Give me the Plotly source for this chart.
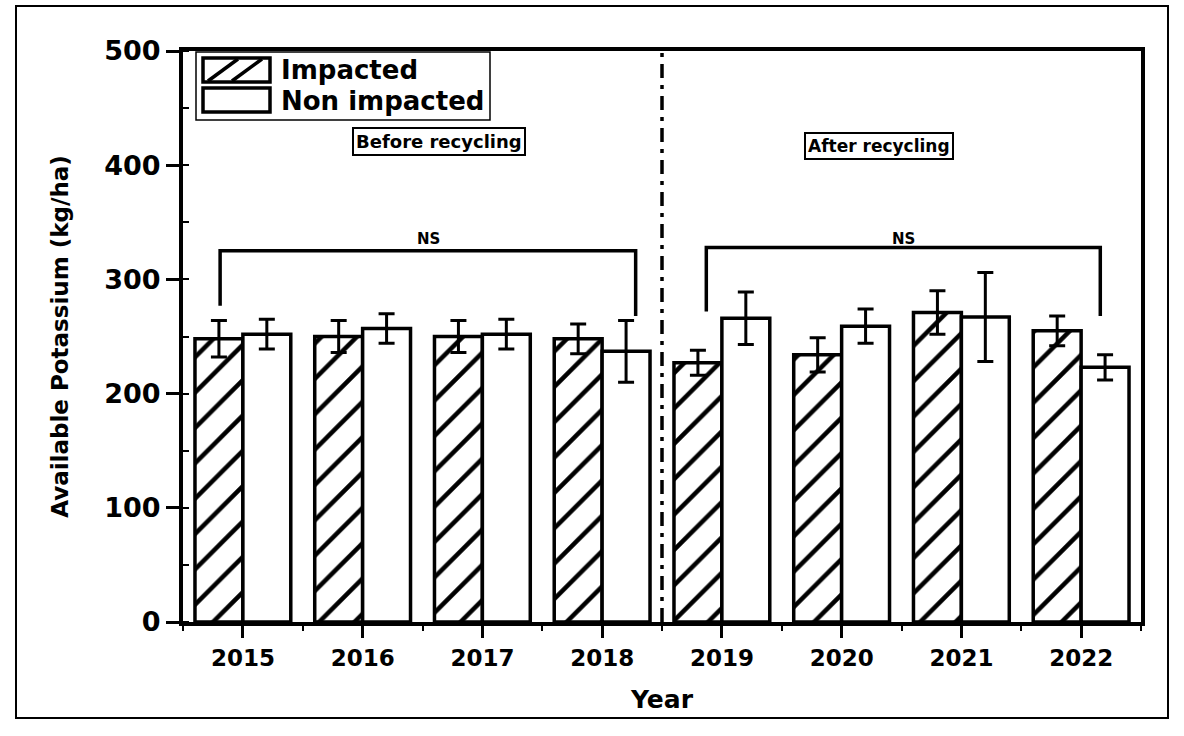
import plotly.graph_objects as go

# Available potassium (kg/ha) per year, mean and error
years = ["2015", "2016", "2017", "2018", "2019", "2020", "2021", "2022"]
impacted = [248, 250, 250, 248, 227, 234, 271, 255]
impacted_err = [16, 14, 14, 13, 11, 15, 19, 13]
non_impacted = [252, 257, 252, 237, 266, 259, 267, 223]
non_impacted_err = [13, 13, 13, 27, 23, 15, 39, 11]
y_ticks = [0, 100, 200, 300, 400, 500]

pos = list(range(len(years)))

W, H = 1184, 736
L, R, T, B = 183, 43, 51, 114
FONT = "DejaVu Sans"


def px(x):
    """pixel x -> paper x"""
    return (x - L) / (W - L - R)


def py(y):
    """pixel y -> paper y"""
    return (H - B - y) / (H - T - B)


def bold(size):
    return dict(family=FONT, size=size, color="black", weight="bold")


fig = go.Figure()

fig.add_trace(go.Bar(
    x=pos, y=impacted, name="Impacted",
    marker=dict(color="white", line=dict(color="black", width=3.5),
                pattern=dict(shape="/", fgcolor="black", bgcolor="white",
                             fgopacity=1, size=25, solidity=0.18)),
    error_y=dict(type="data", array=impacted_err, color="black",
                 thickness=3, width=8),
    showlegend=False,
))
fig.add_trace(go.Bar(
    x=pos, y=non_impacted, name="Non impacted",
    marker=dict(color="white", line=dict(color="black", width=3.5)),
    error_y=dict(type="data", array=non_impacted_err, color="black",
                 thickness=3, width=8),
    showlegend=False,
))

shapes = []
line_k = dict(color="black", width=3.5)

# separator between the two periods
shapes.append(dict(type="line", xref="x", yref="y", x0=3.5, x1=3.5, y0=0, y1=500,
                   line=dict(color="black", width=3.5, dash="14px,7px,4px,7px")))

# "NS" brackets over each period
for x0, x1, top, left_end, right_end in [(-0.19, 3.28, 325, 277, 268),
                                          (3.87, 7.16, 328, 272, 268)]:
    shapes.append(dict(type="path", xref="x", yref="y",
                       path=f"M {x0},{left_end} L {x0},{top} L {x1},{top} L {x1},{right_end}",
                       line=line_k))

# legend box with swatches
shapes.append(dict(type="rect", xref="paper", yref="paper",
                   x0=px(196), x1=px(490), y0=py(120), y1=py(52),
                   line=dict(color="black", width=1.5), fillcolor="white"))
shapes.append(dict(type="rect", xref="paper", yref="paper",
                   x0=px(203), x1=px(270), y0=py(82), y1=py(58),
                   line=dict(color="black", width=3.5)))
for a, b in [(208, 238), (232, 262)]:
    shapes.append(dict(type="line", xref="paper", yref="paper",
                       x0=px(a), x1=px(b), y0=py(81), y1=py(59),
                       line=dict(color="black", width=3.5)))
shapes.append(dict(type="rect", xref="paper", yref="paper",
                   x0=px(203), x1=px(270), y0=py(112), y1=py(88),
                   line=dict(color="black", width=3.5)))

# outer frame of the figure
shapes.append(dict(type="rect", xref="paper", yref="paper",
                   x0=px(16), x1=px(1168), y0=py(718), y1=py(6),
                   line=dict(color="black", width=2)))

annotations = [
    dict(xref="paper", yref="paper", x=px(279), y=py(70), xanchor="left", yanchor="middle",
         text="Impacted", showarrow=False, font=bold(26)),
    dict(xref="paper", yref="paper", x=px(279), y=py(101), xanchor="left", yanchor="middle",
         text="Non impacted", showarrow=False, font=bold(26)),
    dict(xref="x", yref="y", x=1.55, y=335, text="NS", showarrow=False, font=bold(15)),
    dict(xref="x", yref="y", x=5.52, y=335, text="NS", showarrow=False, font=bold(15)),
    dict(xref="x", yref="y", x=1.64, y=421, text="Before recycling", showarrow=False,
         bordercolor="black", borderwidth=2, borderpad=2, bgcolor="white", font=bold(18)),
    dict(xref="x", yref="y", x=5.31, y=417, text="After recycling", showarrow=False,
         bordercolor="black", borderwidth=2, borderpad=2, bgcolor="white", font=bold(17)),
]

fig.update_layout(
    width=W, height=H,
    margin=dict(l=L, r=R, t=T, b=B, autoexpand=False),
    paper_bgcolor="white", plot_bgcolor="white",
    barmode="group", bargap=0.2, bargroupgap=0,
    shapes=shapes, annotations=annotations,
    font=dict(family=FONT, color="black"),
)

fig.update_xaxes(
    range=[-0.5, 7.5], tickvals=pos, ticktext=years,
    showgrid=False, zeroline=False,
    showline=True, linecolor="black", linewidth=4, mirror=True,
    ticks="outside", ticklen=12, tickwidth=3, tickcolor="black",
    minor=dict(tick0=0.5, dtick=1, ticks="outside", ticklen=5, tickwidth=2, tickcolor="black"),
    tickfont=bold(23),
    title=dict(text="Year", standoff=22, font=bold(25)),
)
fig.update_yaxes(
    range=[0, 500], tickvals=y_ticks,
    showgrid=False, zeroline=False,
    showline=True, linecolor="black", linewidth=4, mirror=True,
    ticks="outside", ticklen=13, tickwidth=3, tickcolor="black",
    minor=dict(dtick=50, ticks="inside", ticklen=6, tickwidth=2, tickcolor="black"),
    tickfont=bold(27),
    title=dict(text="Available Potassium (kg/ha)", standoff=30, font=bold(23)),
)

fig.write_html("out.html")
